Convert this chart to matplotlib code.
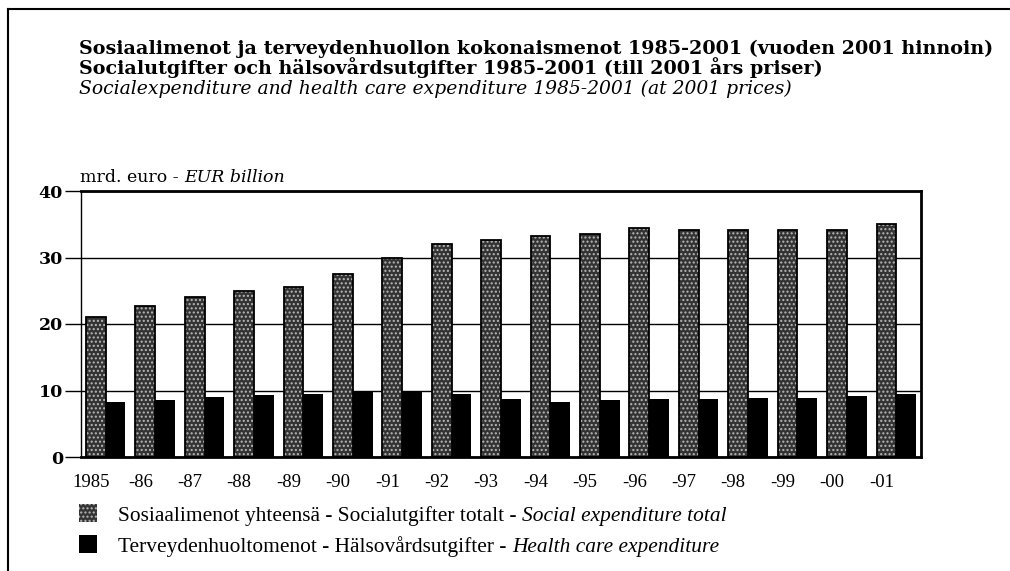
import numpy as np
import matplotlib.pyplot as plt
from matplotlib.patches import Rectangle
from matplotlib.lines import Line2D
from matplotlib.transforms import IdentityTransform

# data (mrd. euro, 2001 prices)
years = ["1985", "-86", "-87", "-88", "-89", "-90", "-91", "-92", "-93",
         "-94", "-95", "-96", "-97", "-98", "-99", "-00", "-01"]
social_total = [21.1, 22.7, 24.0, 24.9, 25.6, 27.5, 30.0, 32.1, 32.6,
                33.3, 33.6, 34.5, 34.1, 34.1, 34.2, 34.1, 35.0]
health_care = [8.3, 8.5, 9.0, 9.3, 9.5, 10.0, 10.0, 9.5, 8.7,
               8.3, 8.5, 8.7, 8.7, 8.8, 8.9, 9.1, 9.5]

title_lines = [
    ("Sosiaalimenot ja terveydenhuollon kokonaismenot 1985-2001 (vuoden 2001 hinnoin)", "normal", "bold", 13.8),
    ("Socialutgifter och hälsovårdsutgifter 1985-2001 (till 2001 års priser)", "normal", "bold", 13.8),
    ("Socialexpenditure and health care expenditure 1985-2001 (at 2001 prices)", "italic", "normal", 13.5),
]
legend_rows = [
    [("Sosiaalimenot yhteensä - Socialutgifter totalt - ", "normal"), ("Social expenditure total", "italic")],
    [("Terveydenhuoltomenot - Hälsovårdsutgifter - ", "normal"), ("Health care expenditure", "italic")],
]

WIDE = ['DejaVu Serif']
TIMES = ['Liberation Serif', 'DejaVu Serif']
plt.rcParams['font.family'] = TIMES
plt.rcParams['hatch.linewidth'] = 1.0

W, H = 1010, 571
fig = plt.figure(figsize=(W / 100, H / 100), dpi=100)
ax = fig.add_axes([81 / W, 1 - 457 / H, (921 - 81) / W, (457 - 191) / H])

STIPPLE_FACE = "#333333"
STIPPLE_DOTS = "#b8b8b8"

x = np.arange(len(years))
w = 0.4
ax.bar(x - w / 2, social_total, w, color=STIPPLE_FACE, edgecolor=STIPPLE_DOTS,
       hatch="....", lw=0, zorder=2)
ax.bar(x - w / 2, social_total, w, fill=False, edgecolor="black", lw=1.3, zorder=3)
ax.bar(x + w / 2, health_care, w, color="black", edgecolor="black", lw=0, zorder=2)

ax.set_xlim(-0.5, len(years) - 0.5)
ax.set_ylim(0, 40)
ax.set_yticks([0, 10, 20, 30, 40])
ax.yaxis.grid(True, color="black", lw=1)
ax.set_axisbelow(True)
ax.tick_params(axis="y", direction="out", length=11.5, width=1, pad=1.5)
for lab in ax.get_yticklabels():
    lab.set_fontweight("bold")
    lab.set_family(WIDE)
    lab.set_fontsize(12.5)

ax.set_xticks(x - 0.3)
ax.set_xticklabels(years)
ax.tick_params(axis="x", length=0, pad=12, labelsize=13.5)

for side in ["top", "right", "bottom"]:
    ax.spines[side].set_linewidth(2)
ax.spines["left"].set_linewidth(1)

renderer = fig.canvas.get_renderer()


def draw_runs(x0, y_top, runs, size, weight="normal", family=TIMES):
    # y_top: baseline in pixels from the top of the image
    xx = x0
    for s, style in runs:
        t = fig.text(xx, H - y_top, s, fontsize=size, style=style, weight=weight,
                     family=family, va="baseline", ha="left",
                     transform=IdentityTransform())
        xx = t.get_window_extent(renderer).x1


# titles
for (txt, style, weight, size), base in zip(title_lines, [54, 74, 94]):
    draw_runs(79, base, [(txt, style)], size, weight, WIDE)

# unit label
draw_runs(80, 182, [("mrd. euro - ", "normal"), ("EUR billion", "italic")], 12.5, family=WIDE)

# legend
swatches = [dict(facecolor=STIPPLE_FACE, edgecolor=STIPPLE_DOTS, hatch="....", lw=0),
            dict(facecolor="black", edgecolor="black", lw=0)]
for row, sw, base in zip(legend_rows, swatches, [521, 552]):
    fig.add_artist(Rectangle((79, H - base - 1), 18, 18, transform=IdentityTransform(), **sw))
    draw_runs(118, base, row, 15.4)

# outer frame (top and left edges)
fig.add_artist(Line2D([8, 8], [0, H - 9], transform=IdentityTransform(), color="black", lw=1.5))
fig.add_artist(Line2D([8, W], [H - 9, H - 9], transform=IdentityTransform(), color="black", lw=1.5))

fig.savefig("out.png", dpi=100)
